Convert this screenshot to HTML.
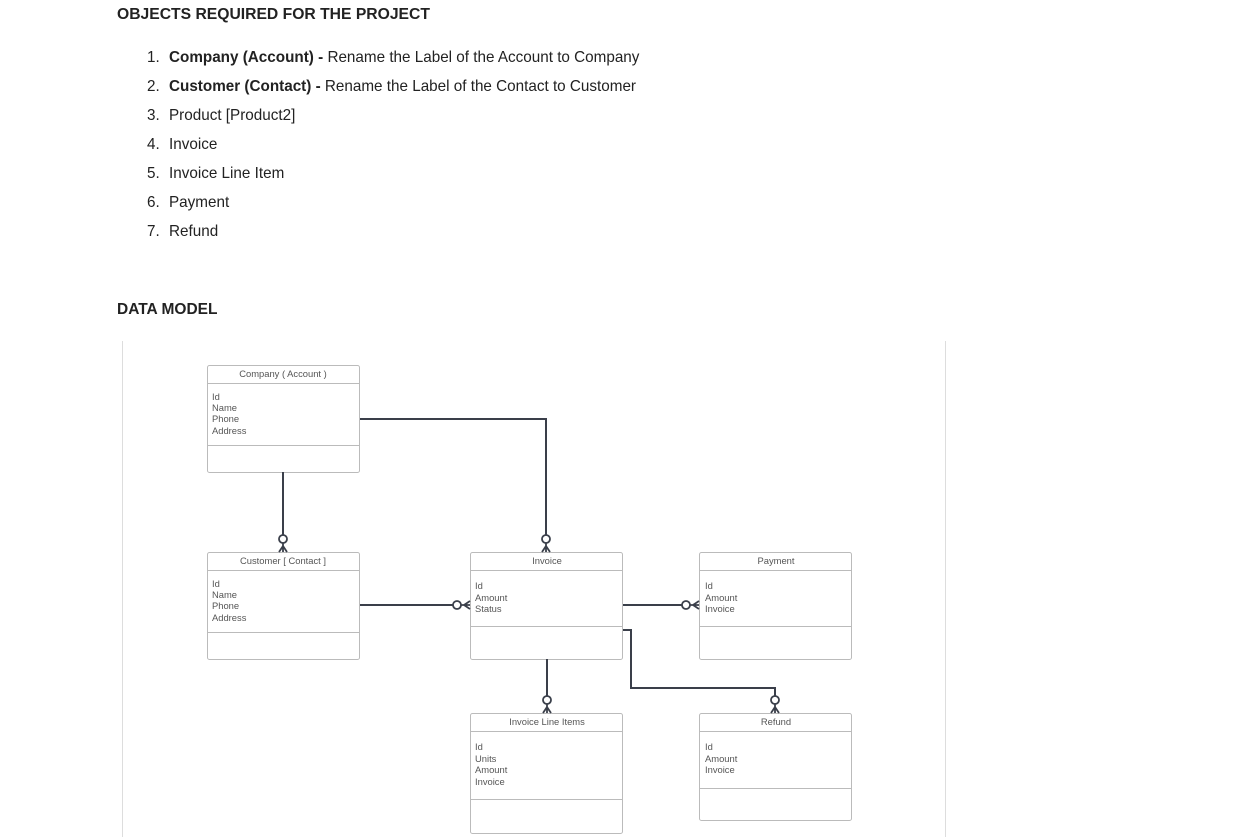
<!DOCTYPE html>
<html><head><meta charset="utf-8"><style>
body{margin:0;width:1233px;height:837px;background:#fff;font-family:"Liberation Sans",sans-serif;color:#222;position:relative;overflow:hidden}
h1{position:absolute;margin:0;font-size:15.7px;font-weight:bold;left:117px}
.li{position:absolute;left:147px;font-size:15.25px;white-space:nowrap}
.li span.n{display:inline-block;width:22px}
</style></head><body>
<h1 style="top:6px">OBJECTS REQUIRED FOR THE PROJECT</h1>
<div class="li" style="top:49px"><span class="n">1.</span><b>Company (Account) -</b> Rename the Label of the Account to Company</div>
<div class="li" style="top:78px"><span class="n">2.</span><b>Customer (Contact) -</b> Rename the Label of the Contact to Customer</div>
<div class="li" style="top:107px"><span class="n">3.</span>Product [Product2]</div>
<div class="li" style="top:136px"><span class="n">4.</span>Invoice</div>
<div class="li" style="top:165px"><span class="n">5.</span>Invoice Line Item</div>
<div class="li" style="top:194px"><span class="n">6.</span>Payment</div>
<div class="li" style="top:223px"><span class="n">7.</span>Refund</div>
<h1 style="top:301px;font-size:15.5px">DATA MODEL</h1>
<svg width="1233" height="837" style="position:absolute;left:0;top:0" font-family="Liberation Sans, sans-serif" font-size="9.4" fill="#555">
<line x1="122.5" y1="341" x2="122.5" y2="837" stroke="#ddd"/>
<line x1="945.5" y1="341" x2="945.5" y2="837" stroke="#ddd"/>
<g fill="#fff" stroke="#bbb">
<rect x="207.5" y="365.5" width="152" height="107" rx="2"/>
<rect x="207.5" y="552.5" width="152" height="107" rx="2"/>
<rect x="470.5" y="552.5" width="152" height="107" rx="2"/>
<rect x="699.5" y="552.5" width="152" height="107" rx="2"/>
<rect x="470.5" y="713.5" width="152" height="120" rx="2"/>
<rect x="699.5" y="713.5" width="152" height="107" rx="2"/>
<path d="M207 383.5h152M207 445.5h152M207 570.5h152M207 632.5h152M470 570.5h152M470 626.5h152M699 570.5h152M699 626.5h152M470 731.5h152M470 799.5h152M699 731.5h152M699 788.5h152"/>
</g>
<g text-anchor="middle">
<text x="283" y="377">Company ( Account )</text>
<text x="283" y="564">Customer [ Contact ]</text>
<text x="547" y="564">Invoice</text>
<text x="776" y="564">Payment</text>
<text x="547" y="725">Invoice Line Items</text>
<text x="776" y="725">Refund</text>
</g>
<text x="212" y="400">Id</text><text x="212" y="411">Name</text><text x="212" y="422">Phone</text><text x="212" y="434">Address</text>
<text x="212" y="587">Id</text><text x="212" y="598">Name</text><text x="212" y="609">Phone</text><text x="212" y="621">Address</text>
<text x="475" y="589">Id</text><text x="475" y="601">Amount</text><text x="475" y="612">Status</text>
<text x="705" y="589">Id</text><text x="705" y="601">Amount</text><text x="705" y="612">Invoice</text>
<text x="475" y="750">Id</text><text x="475" y="762">Units</text><text x="475" y="773">Amount</text><text x="475" y="785">Invoice</text>
<text x="705" y="750">Id</text><text x="705" y="762">Amount</text><text x="705" y="773">Invoice</text>
<g stroke="#3a3f4a" stroke-width="2" fill="none">
<path d="M360 419H546V535"/>
<path d="M283 472V535"/>
<path d="M360 605H453"/>
<path d="M623 605H682"/>
<path d="M547 659V696"/>
<path d="M623 630H631V688H775V696"/>
<g stroke-width="1.8" fill="#fff">
<circle cx="546" cy="539" r="4"/><path d="M546 546L542 552M546 546L550 552M546 543V552"/>
<circle cx="283" cy="539" r="4"/><path d="M283 546L279 552M283 546L287 552M283 543V552"/>
<circle cx="547" cy="700" r="4"/><path d="M547 707L543 713M547 707L551 713M547 704V713"/>
<circle cx="775" cy="700" r="4"/><path d="M775 707L771 713M775 707L779 713M775 704V713"/>
<circle cx="457" cy="605" r="4"/><path d="M464 605L470 601M464 605L470 609M461 605H470"/>
<circle cx="686" cy="605" r="4"/><path d="M693 605L699 601M693 605L699 609M690 605H699"/>
</g>
</g>
</svg>
</body></html>
